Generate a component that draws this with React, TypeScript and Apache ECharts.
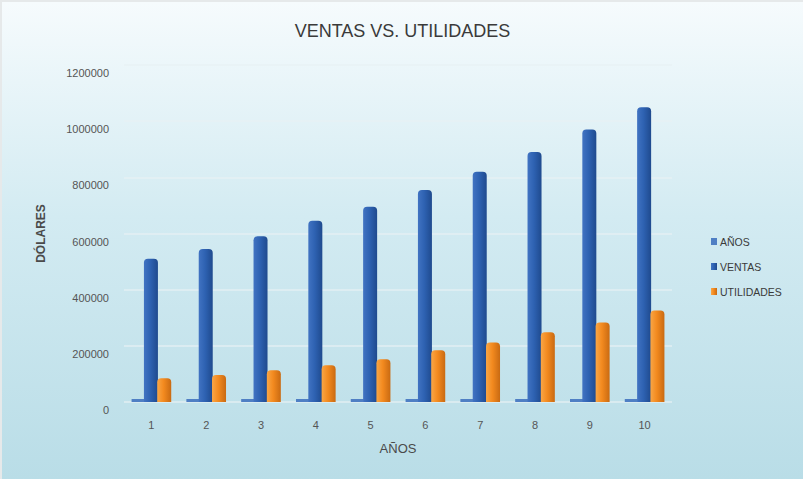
import React, { useEffect, useRef } from "react";
import * as echarts from "echarts";

const categories = ["1", "2", "3", "4", "5", "6", "7", "8", "9", "10"];
const anos = [1, 2, 3, 4, 5, 6, 7, 8, 9, 10];
const ventas = [510000, 545000, 590000, 645000, 695000, 755000, 820000, 890000, 970000, 1050000];
const utilidades = [85000, 96000, 113000, 131000, 152000, 184000, 212000, 248000, 283000, 326000];
const yTicks = { min: 0, max: 1200000, interval: 200000 };

const FONT = "'Liberation Sans', Arial, sans-serif";
const NARROW = "'Liberation Sans Narrow', 'Liberation Sans', Arial, sans-serif";

export default function App() {
  const ref = useRef<HTMLDivElement>(null);
  useEffect(() => {
    if (!ref.current) return;
    const chart = echarts.init(ref.current, null, { renderer: "svg" });
    const hGrad = (a: string, b: string, c: string) =>
      new echarts.graphic.LinearGradient(0, 0, 1, 0, [
        { offset: 0, color: a },
        { offset: 0.45, color: b },
        { offset: 1, color: c },
      ]);
    chart.setOption({
      animation: false,
      backgroundColor: new echarts.graphic.LinearGradient(0, 0, 0, 1, [
        { offset: 0, color: "#f6fbfd" },
        { offset: 0.45, color: "#d3ebf2" },
        { offset: 1, color: "#b9dde7" },
      ]),
      title: {
        text: "VENTAS VS. UTILIDADES",
        left: "center",
        top: 15,
        textStyle: { fontFamily: NARROW, fontSize: 18, fontWeight: "normal", color: "#3a3a3a" },
      },
      legend: {
        orient: "vertical",
        left: 704,
        top: 229,
        itemWidth: 6,
        itemHeight: 7,
        itemGap: 14,
        icon: "rect",
        data: ["AÑOS", "VENTAS", "UTILIDADES"],
        textStyle: { fontFamily: NARROW, fontSize: 10.5, color: "#3a3a3a", padding: [0, 0, 0, -2] },
      },
      grid: { left: 122, right: 131, top: 63, bottom: 77 },
      xAxis: {
        type: "category",
        data: categories,
        name: "AÑOS",
        nameLocation: "middle",
        nameGap: 40,
        nameTextStyle: { fontFamily: NARROW, fontSize: 13, color: "#4a4a4a" },
        axisLine: { show: false },
        axisTick: { show: false },
        axisLabel: { fontFamily: FONT, fontSize: 11, color: "#555", margin: 17 },
      },
      yAxis: {
        type: "value",
        min: yTicks.min,
        max: yTicks.max,
        interval: yTicks.interval,
        name: "DÓLARES",
        nameLocation: "middle",
        nameGap: 77,
        nameRotate: 90,
        nameTextStyle: { fontFamily: NARROW, fontSize: 12, fontWeight: "bold", color: "#4a4a4a" },
        axisLine: { show: false },
        axisTick: { show: false },
        splitLine: { lineStyle: { color: "rgba(232,240,243,0.85)", width: 1.5 } },
        axisLabel: {
          fontFamily: FONT,
          fontSize: 11,
          color: "#555",
          margin: 15,
          verticalAlign: "top",
          lineHeight: 16,
          formatter: (v: number) => String(v),
        },
      },
      series: [
        {
          name: "AÑOS",
          type: "bar",
          data: anos,
          barWidth: 13,
          barGap: "-5%",
          barMinHeight: 3,
          itemStyle: { color: "#4f7fc4" },
        },
        {
          name: "VENTAS",
          type: "bar",
          data: ventas,
          barWidth: 14,
          barGap: "-5%",
          itemStyle: {
            color: hGrad("#4173c2", "#2e62b2", "#1f4a8e"),
            borderRadius: [4, 4, 0, 0],
          },
        },
        {
          name: "UTILIDADES",
          type: "bar",
          data: utilidades,
          barWidth: 14,
          barGap: "-5%",
          itemStyle: {
            color: hGrad("#f9a646", "#f38a1f", "#c96a12"),
            borderRadius: [4, 4, 0, 0],
          },
        },
      ],
    });
    return () => chart.dispose();
  }, []);
  return (
    <div
      ref={ref}
      style={{
        position: "absolute",
        left: 0,
        top: 0,
        width: 803,
        height: 479,
        boxSizing: "border-box",
        borderTop: "2px solid #e6e9ea",
        borderLeft: "2px solid #e6e9ea",
      }}
    />
  );
}
